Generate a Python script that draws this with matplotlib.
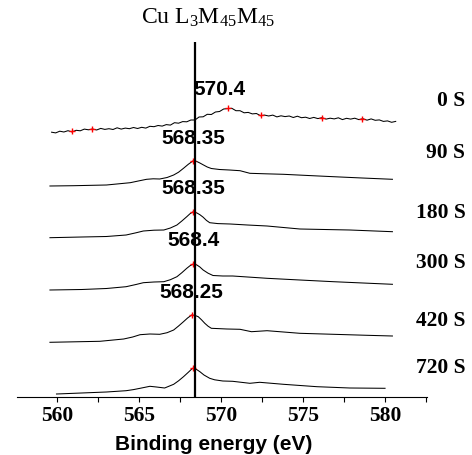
import numpy as np
import matplotlib
matplotlib.use("Agg")
import matplotlib.pyplot as plt
from matplotlib.ticker import MultipleLocator

plt.rcParams['mathtext.fontset'] = 'custom'
plt.rcParams['mathtext.rm'] = 'Liberation Serif'
plt.rcParams['mathtext.it'] = 'Liberation Serif:italic'

# spectra (binding energy in eV, stacked intensity in a.u.)
e_0 = np.arange(85) * 0.25 + 559.65
h_0 = [264.8, 264.1, 265.8, 265.0, 266.3, 265.1, 266.7, 266.2, 267.9, 267.2,
       268.0, 267.0, 268.6, 267.6, 268.3, 267.5, 269.2, 267.9, 268.9, 268.3,
       269.5, 268.5, 269.7, 268.9, 270.7, 270.3, 271.5, 270.9, 272.4, 271.9,
       274.3, 273.8, 275.4, 275.2, 277.0, 277.0, 280.0, 280.2, 282.7, 282.5,
       285.0, 285.5, 288.0, 288.4, 288.7, 286.3, 286.3, 284.2, 284.6, 283.1,
       283.5, 281.3, 281.9, 281.0, 281.9, 280.1, 281.2, 280.4, 281.0, 279.5,
       280.8, 279.3, 279.8, 278.5, 279.6, 278.4, 279.3, 277.9, 278.8, 278.1,
       279.2, 277.4, 278.7, 277.9, 278.8, 277.4, 278.3, 276.8, 278.1, 276.7,
       277.1, 275.6, 276.1, 274.7, 275.6]

e_90 = [559.55, 561.0, 563.0, 564.45, 565.0, 565.45, 565.85, 566.25, 566.7,
        567.1, 567.4, 567.7, 568.0, 568.3, 568.5, 568.7, 568.9, 569.15, 569.4,
        569.9, 570.5, 571.15, 571.75, 572.7, 573.8, 575.3, 576.85, 578.6, 580.45]
h_90 = [211, 211.3, 212, 214.3, 216.2, 217.7, 218.2, 218, 219.5, 222, 224.8,
        228.7, 232.8, 236.3, 235.6, 234, 232.2, 230, 228.5, 227.5, 227, 226.3,
        223.7, 223.2, 222.7, 221.5, 220.3, 219, 217.7]

e_180 = [559.55, 561.5, 563.0, 564.2, 564.8, 565.25, 565.9, 566.5, 566.9,
         567.3, 567.6, 567.9, 568.1, 568.3, 568.5, 568.7, 568.9, 569.1, 569.3,
         569.8, 570.55, 571.6, 572.8, 574.8, 576.3, 577.85, 580.45]
h_180 = [159.3, 160, 160.5, 162, 164.2, 166, 166.8, 167, 169, 172, 176, 180.3,
         183.3, 185.3, 184.2, 182.3, 179.8, 176.6, 174.3, 173.4, 173, 172, 171,
         168, 167.5, 167, 165.3]

e_300 = [559.55, 561.5, 563.0, 564.2, 564.8, 565.25, 565.9, 566.5, 566.9,
         567.3, 567.6, 567.9, 568.1, 568.3, 568.5, 568.7, 568.9, 569.2, 569.5,
         570.1, 570.7, 572.8, 574.8, 576.85, 580.45]
h_300 = [107, 107.5, 108.5, 110.3, 112.5, 114.3, 115, 115.3, 117.3, 120.3,
         124.3, 128.7, 131.3, 133, 132.2, 130, 127, 123.8, 121.5, 121, 121,
         118.7, 117, 115.3, 112.7]

e_420 = [559.55, 562.6, 564.05, 564.6, 565.05, 565.65, 566.25, 566.7, 567.1,
         567.4, 567.7, 567.95, 568.2, 568.4, 568.6, 568.8, 569.0, 569.2, 569.4,
         570.35, 571.15, 571.85, 572.8, 574.8, 576.85, 578.9, 580.45]
h_420 = [54.7, 55.7, 58, 60, 62.3, 63, 62.7, 64.3, 67, 71, 75.3, 79, 82, 81.6,
         80.3, 77.2, 73.7, 70.8, 68.7, 68, 67.7, 65.3, 66.3, 63.7, 62.7, 61.7, 61]

e_720 = [559.95, 563.0, 564.2, 564.65, 565.05, 565.65, 566.05, 566.55, 567.1,
         567.4, 567.7, 568.0, 568.25, 568.5, 568.7, 568.95, 569.3, 569.6, 570.1,
         570.7, 571.75, 572.35, 573.8, 575.85, 577.85, 580.0]
h_720 = [3, 5, 6.3, 7.4, 8.7, 10.7, 10, 9, 12.7, 16.2, 20.3, 24.8, 28.7, 27.5,
         25.3, 22, 18.7, 17.2, 16, 15.7, 13.7, 14.7, 12.7, 10.3, 9, 8.7]

# red + markers
mark_0_e = [560.9, 562.1, 570.4, 572.4, 576.15, 578.6]
mark_0_h = [266, 267.7, 288.7, 282, 278.7, 278]
peak_e = [568.3, 568.3, 568.3, 568.2, 568.25]
peak_h = [236.3, 185.3, 133, 82, 28.7]

# annotations
peak_txt = ['570.4', '568.35', '568.35', '568.4', '568.25']
peak_txt_e = [569.9, 568.3, 568.3, 568.32, 568.17]
peak_txt_h = [307.8, 258.7, 208.7, 156.2, 104.5]
time_txt = ['0 S', '90 S', '180 S', '300 S', '420 S', '720 S']
time_txt_h = [296, 244, 184.5, 134, 76.3, 28.7]
ref_line = 568.4

fig = plt.figure(figsize=(4.72, 4.55), dpi=100)
ax = fig.add_axes([17 / 472, 58 / 455, 410 / 472, 355 / 455])

spectra = [(e_0, h_0), (e_90, h_90), (e_180, h_180), (e_300, h_300),
           (e_420, h_420), (e_720, h_720)]
for e, h in spectra:
    ax.plot(e, h, color='black', lw=0.75)

ax.plot(mark_0_e, mark_0_h, '+', color='red', ms=5, mew=1)
ax.plot(peak_e, peak_h, '+', color='red', ms=5, mew=1)
ax.axvline(ref_line, color='black', lw=1.6)

for t, x, y in zip(peak_txt, peak_txt_e, peak_txt_h):
    ax.text(x, y, t, ha='center', va='center', fontsize=15,
            family='Liberation Sans', fontweight='bold')
for t, y in zip(time_txt, time_txt_h):
    ax.text(584.9, y, t, ha='right', va='center', fontsize=15.5,
            family='Liberation Serif', fontweight='bold', clip_on=False)

ax.set_xlim(557.54, 582.56)
ax.set_ylim(0, 355)
ax.xaxis.set_major_locator(MultipleLocator(5))
ax.xaxis.set_minor_locator(MultipleLocator(2.5))
ax.tick_params(axis='x', which='both', direction='out', length=3.5, width=0.8, pad=3)
for lab in ax.get_xticklabels():
    lab.set_family('Liberation Serif')
    lab.set_fontweight('bold')
    lab.set_fontsize(15.5)
ax.set_yticks([])
for s in ['left', 'right', 'top']:
    ax.spines[s].set_visible(False)
ax.spines['bottom'].set_linewidth(0.8)

fig.text(213.5 / 472, 1 - 445 / 455, 'Binding energy (eV)', ha='center',
         va='center', fontsize=15, family='Liberation Sans', fontweight='bold')
fig.text(208 / 472, 1 - 18 / 455, r'Cu L$_3$M$_{45}$M$_{45}$', ha='center',
         va='center', fontsize=17, family='Liberation Serif')

fig.savefig('out.png', dpi=100)
